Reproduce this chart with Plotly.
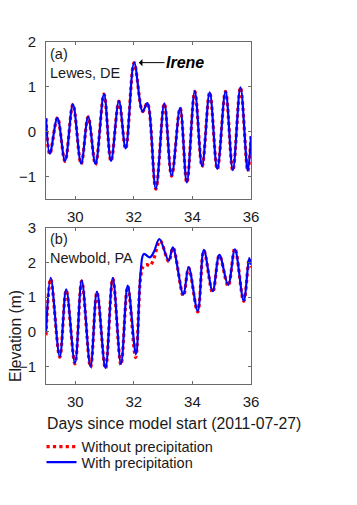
import plotly.graph_objects as go

# ---------------- data ----------------
# Panel (a) Lewes, DE : tidal extrema (days, elevation m)
a_days = [29.0, 29.13, 29.39, 29.65, 29.92, 30.20, 30.44, 30.69, 30.98, 31.22,
          31.49, 31.72, 32.01, 32.30, 32.46, 32.75, 33.04, 33.29, 33.58, 33.81,
          34.08, 34.33, 34.59, 34.85, 35.13, 35.38, 35.64, 35.89, 36.0]
a_with = [0.30, -0.49, 0.31, -0.65, 0.61, -0.71, 0.33, -0.72, 0.84, -0.65,
          0.68, -0.37, 1.54, 0.45, 0.64, -1.27, 0.63, -0.98, 0.53, -1.13,
          0.90, -0.77, 0.88, -0.83, 0.90, -0.86, 0.99, -0.87, -0.10]
a_without = [0.30, -0.50, 0.31, -0.66, 0.61, -0.72, 0.33, -0.73, 0.84, -0.66,
             0.68, -0.38, 1.54, 0.45, 0.64, -1.28, 0.63, -0.99, 0.53, -1.14,
             0.90, -0.78, 0.88, -0.84, 0.90, -0.87, 0.99, -0.88, -0.10]

# Panel (b) Newbold, PA
b_days_with = [29.0, 29.16, 29.47, 29.69, 29.99, 30.22, 30.52, 30.74, 31.03, 31.28,
               31.56, 31.79, 32.07, 32.23, 32.34, 32.55, 32.69, 32.87, 33.19, 33.33,
               33.69, 33.87, 34.18, 34.39, 34.69, 34.92, 35.22, 35.45, 35.75, 35.94, 36.0]
b_with = [-0.02, 1.55, -0.71, 1.22, -0.90, 1.48, -1.00, 1.16, -1.04, 1.55,
          -0.92, 1.33, -0.64, 1.71, 2.24, 2.14, 2.31, 2.67, 2.05, 2.43,
          1.07, 1.86, 0.60, 2.36, 1.17, 2.21, 1.35, 2.37, 0.90, 2.12, 1.93]
b_days_without = [29.0, 29.16, 29.47, 29.69, 29.99, 30.22, 30.52, 30.74, 31.03, 31.28,
                  31.56, 31.79, 32.06, 32.23, 32.32, 32.45, 32.55, 32.66, 32.90, 33.19,
                  33.34, 33.69, 33.87, 34.18, 34.39, 34.69, 34.92, 35.22, 35.45, 35.75,
                  35.94, 36.0]
b_without = [-0.10, 1.52, -0.73, 1.20, -0.92, 1.46, -1.02, 1.14, -1.06, 1.53,
             -0.95, 1.31, -0.74, 1.55, 1.88, 1.93, 1.90, 2.05, 2.62, 2.02,
             2.42, 1.03, 1.84, 0.57, 2.34, 1.13, 2.20, 1.32, 2.40, 0.88,
             2.10, 1.85]

x_ticks = [30, 32, 34, 36]
a_yticks = [-1, 0, 1, 2]
b_yticks = [-1, 0, 1, 2, 3]
legend_names = ["Without precipitation", "With precipitation"]

# ---------------- figure ----------------
W, H = 357, 505
FONT = "Liberation Sans, Arial, sans-serif"
AX = "#6a6a6a"
TXT = "#1a1a1a"

def px_x(p):
    return p / W

def px_y(p):
    return 1 - p / H

fig = go.Figure()
red = dict(color="#ff0000", width=3.2, dash="dot", shape="spline", smoothing=1.0)
blue = dict(color="#0000ff", width=2.2, shape="spline", smoothing=1.0)

fig.add_trace(go.Scatter(x=a_days, y=a_without, mode="lines", line=red,
                         name=legend_names[0], showlegend=False, xaxis="x", yaxis="y"))
fig.add_trace(go.Scatter(x=a_days, y=a_with, mode="lines", line=blue,
                         name=legend_names[1], showlegend=False, xaxis="x", yaxis="y"))
fig.add_trace(go.Scatter(x=b_days_without, y=b_without, mode="lines", line=red,
                         name=legend_names[0], xaxis="x2", yaxis="y2", legend="legend"))
fig.add_trace(go.Scatter(x=b_days_with, y=b_with, mode="lines", line=blue,
                         name=legend_names[1], xaxis="x2", yaxis="y2", legend="legend2"))

dom_x = [px_x(46), px_x(251)]
common = dict(showline=True, linecolor=AX, linewidth=1, mirror="ticks",
              ticks="inside", ticklen=3, tickcolor=AX, tickwidth=1,
              showgrid=False, zeroline=False, automargin=False,
              tickfont=dict(family=FONT, size=15, color=TXT))

leg_common = dict(x=px_x(41.5), xanchor="left", yanchor="middle",
                  font=dict(family=FONT, size=14.5, color=TXT),
                  bgcolor="rgba(0,0,0,0)", borderwidth=0)

fig.update_layout(
    template="none",
    width=W, height=H,
    margin=dict(l=0, r=0, t=0, b=0, pad=0, autoexpand=False),
    paper_bgcolor="white", plot_bgcolor="white",
    font=dict(family=FONT, color=TXT),
    xaxis=dict(domain=dom_x, range=[29, 36], tickvals=x_ticks, anchor="y",
               ticklabelstandoff=4, **common),
    yaxis=dict(domain=[px_y(199), px_y(42)], range=[-1.5, 2], tickvals=a_yticks,
               anchor="x", ticklabelstandoff=6, **common),
    xaxis2=dict(domain=dom_x, range=[29, 36], tickvals=x_ticks, anchor="y2",
                ticklabelstandoff=4, **common),
    yaxis2=dict(domain=[px_y(384), px_y(227.5)], range=[-1.5, 3], tickvals=b_yticks,
                anchor="x2", ticklabelstandoff=6, **common),
    showlegend=True,
    legend=dict(y=px_y(446.7), **leg_common),
    legend2=dict(y=px_y(462.3), **leg_common),
    annotations=[
        dict(text="(a)<br>Lewes, DE", xref="paper", yref="paper",
             x=px_x(48), y=px_y(44), xanchor="left", yanchor="top", align="left",
             showarrow=False, font=dict(family=FONT, size=14.5, color=TXT)),
        dict(text="(b)<br>Newbold, PA", xref="paper", yref="paper",
             x=px_x(48), y=px_y(229), xanchor="left", yanchor="top", align="left",
             showarrow=False, font=dict(family=FONT, size=14.5, color=TXT)),
        dict(text="<b><i>Irene</i></b>", xref="x", yref="y", x=32.17, y=1.54,
             axref="x", ayref="y", ax=33.75, ay=1.54, showarrow=True,
             arrowhead=1, arrowsize=1.2, arrowwidth=1, arrowcolor="black",
             font=dict(family=FONT, size=16, color="black")),
        dict(text="Days since model start (2011-07-27)", xref="paper", yref="paper",
             x=px_x(45), y=px_y(423), xanchor="left", yanchor="middle",
             showarrow=False, font=dict(family=FONT, size=15.8, color=TXT)),
        dict(text="Elevation (m)", xref="paper", yref="paper",
             x=px_x(15), y=px_y(336), xanchor="center", yanchor="middle",
             textangle=-90, showarrow=False,
             font=dict(family=FONT, size=15.6, color=TXT)),
    ],
)

fig.write_html(
    "out.html",
    config={"displayModeBar": False},
    post_script=("document.documentElement.style.margin='0';"
                 "document.documentElement.style.overflow='hidden';"
                 "document.body.style.margin='0';document.body.style.padding='0';"
                 "document.body.style.overflow='hidden';"),
)
